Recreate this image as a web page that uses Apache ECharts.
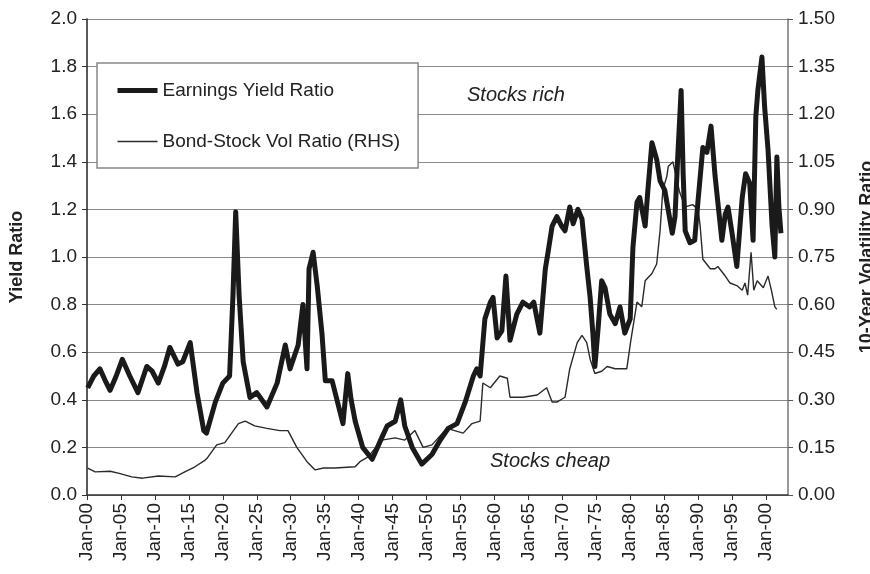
<!DOCTYPE html>
<html>
<head>
<meta charset="utf-8">
<script src="https://cdn.jsdelivr.net/npm/echarts@6/dist/echarts.min.js"></script>
<style>
html,body{margin:0;padding:0;background:#fff;}
#chart{width:870px;height:574px;}
</style>
</head>
<body>
<div id="chart"></div>
<script>
// ---- Data ----
const earningsYears = [1900.1,1901.0,1901.9,1902.7,1903.4,1904.3,1905.2,1906.3,1907.5,1908.8,1909.6,1910.5,1911.4,1912.2,1913.4,1914.1,1915.2,1916.2,1917.2,1917.6,1918.9,1920.0,1921.0,1921.5,1921.9,1922.4,1923.0,1924.0,1925.0,1926.5,1928.0,1929.2,1929.9,1931.1,1931.8,1932.4,1932.7,1933.3,1933.9,1934.6,1935.1,1936.1,1937.7,1938.4,1938.9,1939.5,1940.6,1942.0,1943.4,1944.2,1945.4,1946.2,1946.8,1947.9,1949.3,1950.8,1952.0,1953.2,1954.5,1955.7,1956.9,1957.4,1957.9,1958.6,1959.4,1959.8,1960.4,1961.1,1961.7,1962.3,1963.3,1964.2,1965.2,1965.8,1966.7,1967.5,1967.9,1968.5,1969.2,1969.9,1970.4,1971.1,1971.6,1972.3,1972.9,1973.6,1974.1,1974.5,1974.8,1975.3,1975.8,1976.3,1977.0,1977.8,1978.5,1979.2,1980.0,1980.4,1981.0,1981.4,1982.2,1982.6,1983.2,1983.9,1984.4,1985.1,1985.4,1986.2,1986.6,1987.0,1987.5,1987.8,1988.1,1988.8,1989.5,1990.0,1990.7,1991.3,1991.9,1992.5,1993.5,1994.0,1994.4,1995.0,1995.7,1996.5,1997.0,1997.6,1998.1,1998.5,1998.8,1999.4,1999.8,2000.3,2000.9,2001.3,2001.6,2001.9,2002.2];
const earningsRatio = [0.45,0.50,0.53,0.48,0.44,0.50,0.57,0.50,0.43,0.54,0.52,0.47,0.54,0.62,0.55,0.56,0.64,0.43,0.27,0.26,0.39,0.47,0.50,0.84,1.19,0.84,0.56,0.41,0.43,0.37,0.47,0.63,0.53,0.63,0.80,0.53,0.95,1.02,0.88,0.68,0.48,0.48,0.30,0.51,0.40,0.31,0.20,0.15,0.24,0.29,0.31,0.40,0.29,0.20,0.13,0.17,0.23,0.28,0.30,0.39,0.50,0.53,0.50,0.74,0.81,0.83,0.66,0.69,0.92,0.65,0.76,0.81,0.79,0.81,0.68,0.95,1.02,1.13,1.17,1.13,1.11,1.21,1.14,1.20,1.16,0.96,0.83,0.68,0.54,0.71,0.90,0.87,0.76,0.72,0.79,0.68,0.74,1.04,1.23,1.25,1.13,1.28,1.48,1.41,1.32,1.28,1.23,1.10,1.17,1.42,1.70,1.35,1.11,1.06,1.07,1.24,1.46,1.44,1.55,1.34,1.07,1.18,1.21,1.10,0.96,1.25,1.35,1.31,1.07,1.59,1.70,1.84,1.63,1.45,1.13,1.00,1.42,1.21,1.10];

const volYears = [1900.1,1901.2,1903.4,1904.6,1906.6,1908.2,1910.5,1913.0,1914.4,1915.9,1917.4,1917.7,1919.1,1920.3,1921.3,1922.3,1923.3,1924.7,1926.5,1928.4,1929.6,1930.9,1932.4,1933.6,1934.8,1936.5,1939.5,1940.2,1941.4,1943.4,1945.4,1946.8,1948.3,1949.5,1950.8,1953.0,1955.4,1956.7,1957.9,1958.3,1959.4,1960.8,1961.9,1962.3,1964.2,1966.3,1967.7,1968.5,1969.2,1970.4,1971.1,1972.2,1972.9,1973.6,1974.1,1974.8,1975.8,1976.6,1977.8,1979.5,1980.1,1981.0,1981.7,1982.2,1983.2,1983.9,1984.4,1984.8,1985.4,1985.6,1986.3,1986.9,1987.3,1988.1,1989.2,1990.0,1990.3,1990.7,1991.8,1992.5,1992.9,1994.0,1994.7,1995.7,1996.5,1996.9,1997.3,1997.8,1998.2,1998.7,1999.6,2000.3,2000.8,2001.3,2001.6];
const volRatio = [0.085,0.073,0.075,0.069,0.057,0.053,0.060,0.057,0.073,0.089,0.110,0.116,0.158,0.165,0.195,0.225,0.233,0.218,0.210,0.203,0.203,0.150,0.105,0.079,0.085,0.085,0.089,0.105,0.120,0.173,0.180,0.173,0.203,0.150,0.158,0.210,0.195,0.225,0.233,0.353,0.338,0.375,0.368,0.308,0.308,0.315,0.338,0.293,0.293,0.308,0.398,0.480,0.503,0.480,0.428,0.383,0.390,0.405,0.398,0.398,0.488,0.608,0.593,0.675,0.698,0.728,0.833,0.960,1.005,1.035,1.050,0.990,0.953,0.908,0.915,0.900,0.848,0.743,0.713,0.713,0.720,0.690,0.668,0.660,0.645,0.668,0.630,0.765,0.645,0.675,0.653,0.690,0.645,0.593,0.585];

const xTickYears = [1900,1905,1910,1915,1920,1925,1930,1935,1940,1945,1950,1955,1960,1965,1970,1975,1980,1985,1990,1995,2000];
const seriesNames = ['Earnings Yield Ratio','Bond-Stock Vol Ratio (RHS)'];
const leftAxisName = 'Yield Ratio';
const rightAxisName = '10-Year Volatility Ratio';
const noteRich = 'Stocks rich';
const noteCheap = 'Stocks cheap';

const zip = (xs, ys) => xs.map((x, i) => [x, ys[i]]);
const FONT = '"Liberation Sans", Arial, Helvetica, sans-serif';

const chart = echarts.init(document.getElementById('chart'), null, {renderer: 'canvas'});
chart.setOption({
  animation: false,
  backgroundColor: '#fff',
  textStyle: {fontFamily: FONT, color: '#222'},
  grid: {left: 87, right: 82, top: 19, bottom: 79, outerBoundsMode: 'none', containLabel: false},
  legend: {
    left: 97, top: 63, orient: 'vertical',
    padding: [18, 18, 17, 18],
    itemWidth: 40, itemHeight: 14, itemGap: 32,
    backgroundColor: '#fff', borderColor: '#888', borderWidth: 1.5,
    itemStyle: {opacity: 0},
    textStyle: {fontFamily: FONT, fontSize: 19, color: '#222'},
    data: [
      {name: seriesNames[0], lineStyle: {width: 5, color: '#1a1a1a'}},
      {name: seriesNames[1], lineStyle: {width: 1.4, color: '#2a2a2a'}}
    ]
  },
  xAxis: {
    type: 'value', min: 1900, max: 2003.24, interval: 5,
    splitLine: {show: false},
    axisLine: {lineStyle: {color: '#333', width: 1.5}},
    axisTick: {show: true, length: 5, customValues: xTickYears, lineStyle: {color: '#333'}},
    axisLabel: {
      rotate: 90, fontSize: 19, color: '#222', fontFamily: FONT, margin: 8,
      customValues: xTickYears,
      formatter: v => 'Jan-' + String(Math.round(v) % 100).padStart(2, '0')
    }
  },
  yAxis: [{
    type: 'value', min: 0, max: 2.0, interval: 0.2, position: 'left',
    name: leftAxisName, nameLocation: 'middle', nameGap: 61, nameRotate: 90,
    nameTextStyle: {fontSize: 18, fontWeight: 'bold', color: '#222', fontFamily: FONT},
    axisLine: {show: true, lineStyle: {color: '#222', width: 1.5}},
    axisTick: {show: true, length: 5, lineStyle: {color: '#333'}},
    axisLabel: {fontSize: 19, color: '#222', margin: 10, formatter: v => v.toFixed(1)},
    splitLine: {show: true, lineStyle: {color: '#8a8a8a', width: 1.2}}
  }, {
    type: 'value', min: 0, max: 1.5, interval: 0.15, position: 'right',
    name: rightAxisName, nameLocation: 'middle', nameGap: 70, nameRotate: 90,
    nameTextStyle: {fontSize: 18, fontWeight: 'bold', color: '#222', fontFamily: FONT},
    axisLine: {show: true, lineStyle: {color: '#777', width: 1.5}},
    axisTick: {show: true, length: 5, lineStyle: {color: '#555'}},
    axisLabel: {fontSize: 19, color: '#222', margin: 10, formatter: v => v.toFixed(2)},
    splitLine: {show: false}
  }],
  graphic: [
    {type: 'text', left: 467, top: 85, style: {text: noteRich, font: 'italic 20px ' + FONT, fill: '#222'}},
    {type: 'text', left: 490, top: 451, style: {text: noteCheap, font: 'italic 20px ' + FONT, fill: '#222'}}
  ],
  series: [{
    name: seriesNames[0], type: 'line', yAxisIndex: 0, symbol: 'none', z: 3,
    lineStyle: {color: '#1a1a1a', width: 5, join: 'round'},
    itemStyle: {color: '#1a1a1a'},
    data: zip(earningsYears, earningsRatio)
  }, {
    name: seriesNames[1], type: 'line', yAxisIndex: 1, symbol: 'none', z: 2,
    lineStyle: {color: '#2a2a2a', width: 1.4},
    itemStyle: {color: '#2a2a2a'},
    data: zip(volYears, volRatio)
  }]
});
</script>
</body>
</html>
